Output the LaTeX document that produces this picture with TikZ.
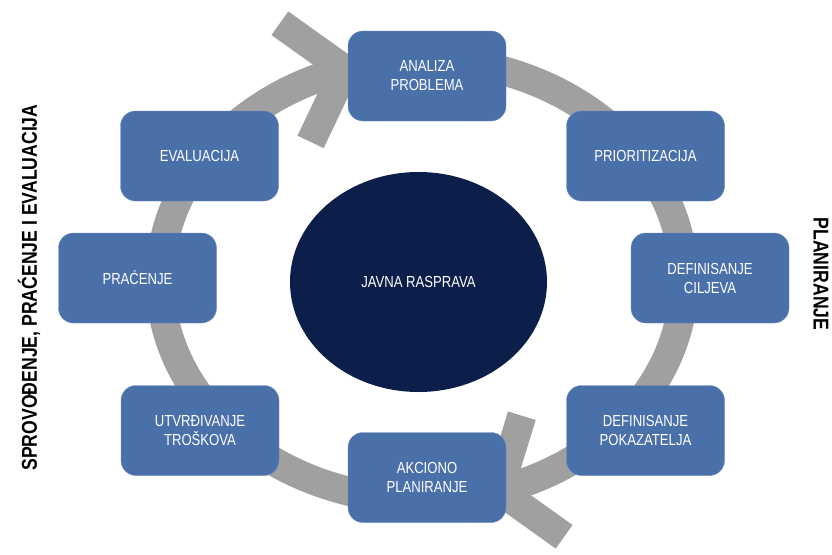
\documentclass[tikz,border=0pt]{standalone}
\usepackage{fontspec}
\usetikzlibrary{shapes.geometric}

\newfontfamily\uskifont{Liberation Sans}[FakeStretch=0.82]
\definecolor{plava}{RGB}{74,112,170}
\definecolor{tamnoplava}{RGB}{12,30,74}
\definecolor{siva}{RGB}{160,160,160}

\begin{document}
\begin{tikzpicture}[x=1pt, y=1pt,
korak/.style={
    draw=plava!80!white,
    fill=plava,
    rectangle,
    rounded corners=15pt,
    minimum width=158pt,
    minimum height=90pt,
    align=center,
    text=white,
    font=\uskifont\fontsize{16}{19}\selectfont},
prsten/.style={
    draw=siva,
    line width=29pt},
bocni/.style={
    font=\uskifont\bfseries\fontsize{21.5}{24}\selectfont}
]

\useasboundingbox (0,0) rectangle (832,-554);

% prsten sa dvije strelice
\coordinate (vrhGore) at (345,-69.7);
\coordinate (vrhDolje) at (499,-490.3);
\draw[prsten] (422,-280) ++(280:262 and 220) arc[start angle=280, end angle=107.1, x radius=262, y radius=220];
\draw[prsten] (422,-280) ++(100:262 and 220) arc[start angle=100, end angle=-72.9, x radius=262, y radius=220];
\draw[prsten, line join=miter] (vrhGore) ++(144.5:80) -- (vrhGore) -- ++(244.5:80);
\draw[prsten, line join=miter] (vrhDolje) ++(324.5:80) -- (vrhDolje) -- ++(73:78);

\node (rasprava) at (418.5,-282) [ellipse, fill=tamnoplava, inner sep=0pt, minimum width=257pt, minimum height=220pt, text=white, font=\uskifont\fontsize{16}{19}\selectfont] {JAVNA RASPRAVA};

\node (analiza) at (427,-76) [korak] {ANALIZA\\PROBLEMA};
\node (prioritizacija) at (645.5,-156) [korak] {PRIORITIZACIJA};
\node (ciljevi) at (710,-278) [korak] {DEFINISANJE\\CILJEVA};
\node (pokazatelji) at (645.5,-430.5) [korak] {DEFINISANJE\\POKAZATELJA};
\node (akciono) at (427,-477.5) [korak] {AKCIONO\\PLANIRANJE};
\node (troskovi) at (200,-430.5) [korak] {UTVRĐIVANJE\\TROŠKOVA};
\node (pracenje) at (137.5,-278) [korak] {PRAĆENJE};
\node (evaluacija) at (199.5,-156) [korak] {EVALUACIJA};

\node (planiranje) at (821,-274) [bocni, rotate=-90] {PLANIRANJE};
\node (sprovodjenje) at (29,-287.5) [bocni, rotate=90] {SPROVOĐENJE, PRAĆENJE I EVALUACIJA};

\end{tikzpicture}
\end{document}
